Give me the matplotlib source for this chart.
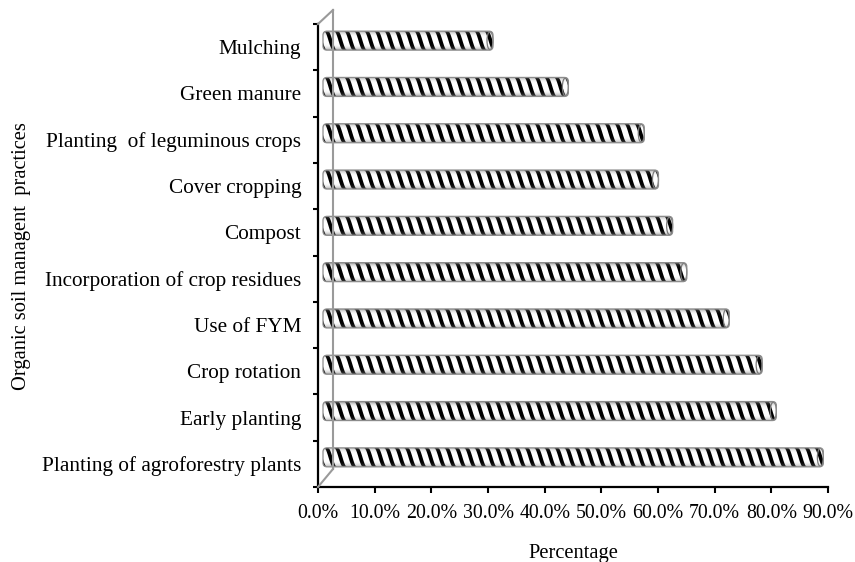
import numpy as np
import matplotlib.pyplot as plt
from matplotlib import transforms
from matplotlib.patches import FancyBboxPatch, Polygon, Ellipse
from matplotlib.lines import Line2D

plt.rcParams['font.family'] = ['Liberation Serif', 'DejaVu Serif']

# ---------- Data (bottom to top) ----------
practices = [
    "Planting of agroforestry plants",
    "Early planting",
    "Crop rotation",
    "Use of FYM",
    "Incorporation of crop residues",
    "Compost",
    "Cover cropping",
    "Planting  of leguminous crops",
    "Green manure",
    "Mulching",
]
percentages = [88.3, 80.0, 77.5, 71.7, 64.2, 61.7, 59.2, 56.7, 43.3, 30.0]
x_ticks = [0, 10, 20, 30, 40, 50, 60, 70, 80, 90]

W, H = 855, 562
fig = plt.figure(figsize=(W / 100, H / 100), dpi=100)
ax = fig.add_axes([318 / W, 75 / H, 510 / W, 463 / H])
ax.set_xlim(0, 90)
ax.set_ylim(-0.5, len(practices) - 0.5)

# ---------- Axes / ticks ----------
for side in ("top", "right"):
    ax.spines[side].set_visible(False)
for side in ("left", "bottom"):
    ax.spines[side].set_linewidth(1.6)
    ax.spines[side].set_color("black")

ax.set_xticks(x_ticks)
ax.set_xticklabels([f"{v:.1f}%" for v in x_ticks], fontsize=14.3)
ax.tick_params(axis="x", direction="out", length=4, width=1.5, pad=8)

ax.set_yticks(np.arange(-0.5, len(practices)))
ax.set_yticklabels([])
ax.tick_params(axis="y", which="major", direction="out", length=3.5, width=1.5)
ax.set_yticks(np.arange(len(practices)), minor=True)
ax.set_yticklabels(practices, minor=True, fontsize=15.3)
ax.tick_params(axis="y", which="minor", length=0, pad=12)

# ---------- Cylinder bars (drawn in pixel space, shifted back in depth) ----------
ident = transforms.IdentityTransform()
dx, dy = 5, 6.5           # depth shift of the bars
bar_h = 19                # pixels
period, stripe_w, slant = 10, 4.0, 9

t = np.linspace(1, -1, 25)
tt = np.linspace(-1, 1, 64)
shade = np.zeros((64, 1, 4))
shade[:, 0, :3] = 0.45
shade[:, 0, 3] = 0.65 * np.abs(tt) ** 4

for i, v in enumerate(percentages):
    (x0, yc) = ax.transData.transform((0, i)) + (dx, dy)
    x1 = ax.transData.transform((v, i))[0] + dx
    y0, y1 = yc - bar_h / 2, yc + bar_h / 2

    body = FancyBboxPatch((x0, y0), x1 - x0, bar_h,
                          boxstyle="round,pad=0,rounding_size=4",
                          transform=ident, facecolor="white",
                          edgecolor="none", zorder=2, clip_on=False)
    ax.add_patch(body)

    ys = yc + t * bar_h / 2
    xs_off = slant * np.arccos(t) / np.pi
    xs = x0 - slant - period
    while xs < x1 + period:
        left = np.column_stack([xs + xs_off, ys])
        right = np.column_stack([xs + xs_off + stripe_w, ys])[::-1]
        stripe = Polygon(np.vstack([left, right]), closed=True,
                         transform=ident, facecolor="black",
                         edgecolor="none", zorder=3)
        ax.add_patch(stripe)
        stripe.set_clip_path(body)
        xs += period

    ext = ax.transData.inverted().transform([(x0, y0), (x1, y1)])
    im = ax.imshow(shade, extent=(ext[0, 0], ext[1, 0], ext[0, 1], ext[1, 1]),
                   aspect="auto", origin="lower", zorder=4,
                   interpolation="bilinear")
    im.set_clip_path(body)

    cap = Ellipse((x1 - 3, yc), 6, bar_h - 1, transform=ident,
                  facecolor="none", edgecolor="#7a7a7a", linewidth=0.9,
                  zorder=5, clip_on=False)
    ax.add_patch(cap)
    outline = FancyBboxPatch((x0, y0), x1 - x0, bar_h,
                             boxstyle="round,pad=0,rounding_size=4",
                             transform=ident, facecolor="none",
                             edgecolor="#8c8c8c", linewidth=0.9, zorder=5,
                             clip_on=False)
    ax.add_patch(outline)

ax.set_xlim(0, 90)
ax.set_ylim(-0.5, len(practices) - 0.5)

# ---------- Side wall (3D frame) ----------
ft = ax.transData.transform((0, len(practices) - 0.5))
fb = ax.transData.transform((0, -0.5))
bt = ft + (15, 14)
bb = fb + (15, 18)
for pts in ([ft, bt], [bt, bb], [bb, fb]):
    pts = np.array(pts)
    ax.add_line(Line2D(pts[:, 0], pts[:, 1], transform=ident,
                       color="#9a9a9a", linewidth=1.5, zorder=6, clip_on=False))

# ---------- Axis titles ----------
fig.text(573 / W, 4 / H, "Percentage", fontsize=14.8, ha="center", va="baseline")
fig.text(22 / W, (H - 256) / H, "Organic soil managent  practices", fontsize=14.8,
         rotation=90, ha="center", va="center")

fig.savefig("out.png", dpi=100, facecolor="white")
